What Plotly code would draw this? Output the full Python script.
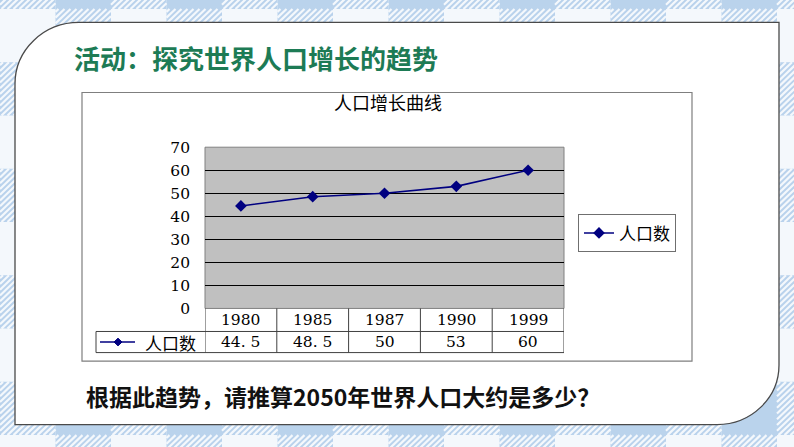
import plotly.graph_objects as go

# ---------------- data ----------------
years = ["1980", "1985", "1987", "1990", "1999"]
population = [44.5, 48.5, 50, 53, 60]
y_ticks = [0, 10, 20, 30, 40, 50, 60, 70]
series_name = "人口数"
chart_title = "人口增长曲线"
slide_title = "活动：探究世界人口增长的趋势"
question = "根据此趋势，请推算2050年世界人口大约是多少？"

# ---------------- geometry helpers ----------------
W, H = 794, 447


def px(x):
    return x / W


def py(y):
    return 1 - y / H


NAVY = "#000080"
CJK = "Noto Sans CJK SC"
SERIF = "DejaVu Serif"

shapes = []
annotations = []

# ---------- gingham background ----------
BASE = "#f4f8fc"
BLUE = "#bad3ec"
HATCH_BG = "#b9d2ec"
P = 111.0
OFF = 55.5

hatch_cells = []
for r in range(-1, 6):
    for c in range(-1, 9):
        bx0, bx1 = OFF + P * c, OFF + P * c + 55.5   # blue column
        wx0, wx1 = P * c, P * c + 55.5               # white column
        by0, by1 = OFF + P * r, OFF + P * r + 55.5   # blue row
        wy0, wy1 = P * r, P * r + 55.5               # white row
        shapes.append(dict(type="rect", xref="paper", yref="paper", layer="below",
                           x0=px(bx0), x1=px(bx1), y0=py(by0), y1=py(by1),
                           fillcolor=BLUE, line=dict(width=0)))
        for (x0, x1, y0, y1) in [(bx0, bx1, wy0, wy1), (wx0, wx1, by0, by1)]:
            shapes.append(dict(type="rect", xref="paper", yref="paper", layer="below",
                               x0=px(x0), x1=px(x1), y0=py(y0), y1=py(y1),
                               fillcolor=HATCH_BG, line=dict(width=0)))
            hatch_cells.append((x0, x1, y0, y1))

segs = []
S = 6.0
for (x0, x1, y0, y1) in hatch_cells:
    c = x0 + y0 + S / 2
    while c < x1 + y1:
        xa = max(x0, c - y1)
        xb = min(x1, c - y0)
        if xb > xa:
            segs.append("M%.5f,%.5f L%.5f,%.5f" % (px(xa), py(c - xa), px(xb), py(c - xb)))
        c += S
shapes.append(dict(type="path", xref="paper", yref="paper", layer="below",
                   path=" ".join(segs), line=dict(color=BASE, width=2.2)))

# ---------- white card ----------
L, T, R, B = 15, 14, 779, 433
r1, r2 = 64, 62
kk = 0.5523
card = (
    f"M{px(L)},{py(T + r1)} "
    f"C{px(L)},{py(T + r1 * (1 - kk))} {px(L + r1 * (1 - kk))},{py(T)} {px(L + r1)},{py(T)} "
    f"L{px(R)},{py(T)} L{px(R)},{py(B - r2)} "
    f"C{px(R)},{py(B - r2 * (1 - kk))} {px(R - r2 * (1 - kk))},{py(B)} {px(R - r2)},{py(B)} "
    f"L{px(L)},{py(B)} Z"
)
shapes.append(dict(type="path", xref="paper", yref="paper", layer="below",
                   path=card, fillcolor="white", line=dict(color="#4a4a4a", width=1.3)))

# ---------- chart frame ----------
shapes.append(dict(type="rect", xref="paper", yref="paper", layer="below",
                   x0=px(82), x1=px(692), y0=py(87), y1=py(367),
                   fillcolor="white", line=dict(color="#7f7f7f", width=1.2)))

# ---------- plot area (gray) ----------
shapes.append(dict(type="rect", xref="x domain", yref="y domain", layer="below",
                   x0=0, x1=1, y0=0, y1=1, fillcolor="#c0c0c0",
                   line=dict(color="#808080", width=1)))

# ---------- data table ----------
TBL = "#404040"
row1_top, row1_bot, row2_bot = 312, 336, 358
for i in range(len(years) + 1):
    shapes.append(dict(type="line", xref="x", yref="paper", layer="above",
                       x0=i - 0.5, x1=i - 0.5, y0=py(row1_top), y1=py(row2_bot),
                       line=dict(color=TBL, width=1)))
for yy in (row1_bot, row2_bot):
    shapes.append(dict(type="line", xref="paper", yref="paper", layer="above",
                       x0=px(96), x1=px(564), y0=py(yy), y1=py(yy),
                       line=dict(color=TBL, width=1)))
shapes.append(dict(type="line", xref="paper", yref="paper", layer="above",
                   x0=px(96), x1=px(96), y0=py(row1_bot), y1=py(row2_bot),
                   line=dict(color=TBL, width=1)))
# legend key in table
ky = (row1_bot + row2_bot) / 2
shapes.append(dict(type="line", xref="paper", yref="paper", layer="above",
                   x0=px(100), x1=px(135), y0=py(ky), y1=py(ky),
                   line=dict(color=NAVY, width=1.5)))
shapes.append(dict(type="path", xref="paper", yref="paper", layer="above",
                   path=f"M{px(118)},{py(ky - 4)} L{px(122)},{py(ky)} L{px(118)},{py(ky + 4)} L{px(114)},{py(ky)} Z",
                   fillcolor=NAVY, line=dict(color=NAVY, width=1)))
annotations.append(dict(text=series_name, xref="paper", yref="paper", x=px(170), y=py(ky),
                        xanchor="center", yanchor="middle", showarrow=False,
                        font=dict(family=CJK, size=17, color="black")))


def fmt(v):
    s = ("%g" % v)
    return s.replace(".", ". ")


for i, (yr, v) in enumerate(zip(years, population)):
    annotations.append(dict(text=yr, xref="x", yref="paper", x=i, y=py((row1_top + row1_bot) / 2),
                            xanchor="center", yanchor="middle", showarrow=False,
                            font=dict(family=SERIF, size=15.5, color="black")))
    annotations.append(dict(text=fmt(v), xref="x", yref="paper", x=i, y=py(ky),
                            xanchor="center", yanchor="middle", showarrow=False,
                            font=dict(family=SERIF, size=15.5, color="black")))

# ---------- slide texts ----------
annotations.append(dict(text="<b>" + slide_title + "</b>", xref="paper", yref="paper",
                        x=px(72), y=py(51), xanchor="left", yanchor="middle", showarrow=False,
                        font=dict(family=CJK, size=26, color="#1d7b55")))
annotations.append(dict(text="<b>" + question + "</b>", xref="paper", yref="paper",
                        x=px(84), y=py(403), xanchor="left", yanchor="middle", showarrow=False,
                        font=dict(family=CJK, size=23, color="#111111")))

# ---------------- figure ----------------
fig = go.Figure()
fig.add_trace(go.Scatter(
    x=years, y=population, name=series_name, mode="lines+markers",
    line=dict(color=NAVY, width=1.6),
    marker=dict(symbol="diamond", size=9, color=NAVY),
))

fig.update_layout(
    width=W, height=H,
    margin=dict(l=0, r=0, t=0, b=0),
    paper_bgcolor=BASE,
    plot_bgcolor="rgba(0,0,0,0)",
    title=dict(text=chart_title, x=px(388), y=py(104), xanchor="center", yanchor="middle",
               font=dict(family=CJK, size=18, color="black")),
    xaxis=dict(domain=[px(205), px(564)], type="category", range=[-0.5, 4.5],
               showgrid=False, zeroline=False, showticklabels=False, showline=False),
    yaxis=dict(domain=[py(312), py(144)], range=[0, 70], tickvals=y_ticks,
               showgrid=True, gridcolor="black", gridwidth=1, zeroline=False,
               showline=False, ticks="", ticklabelstandoff=14,
               tickfont=dict(family=SERIF, size=15.5, color="black")),
    showlegend=True,
    legend=dict(x=px(578), y=py(214), xanchor="left", yanchor="top",
                bgcolor="white", bordercolor="#6f6f6f", borderwidth=1,
                font=dict(family=CJK, size=17, color="black"),
                itemwidth=30, tracegroupgap=0),
    shapes=shapes,
    annotations=annotations,
)

fig.write_html("out.html")
